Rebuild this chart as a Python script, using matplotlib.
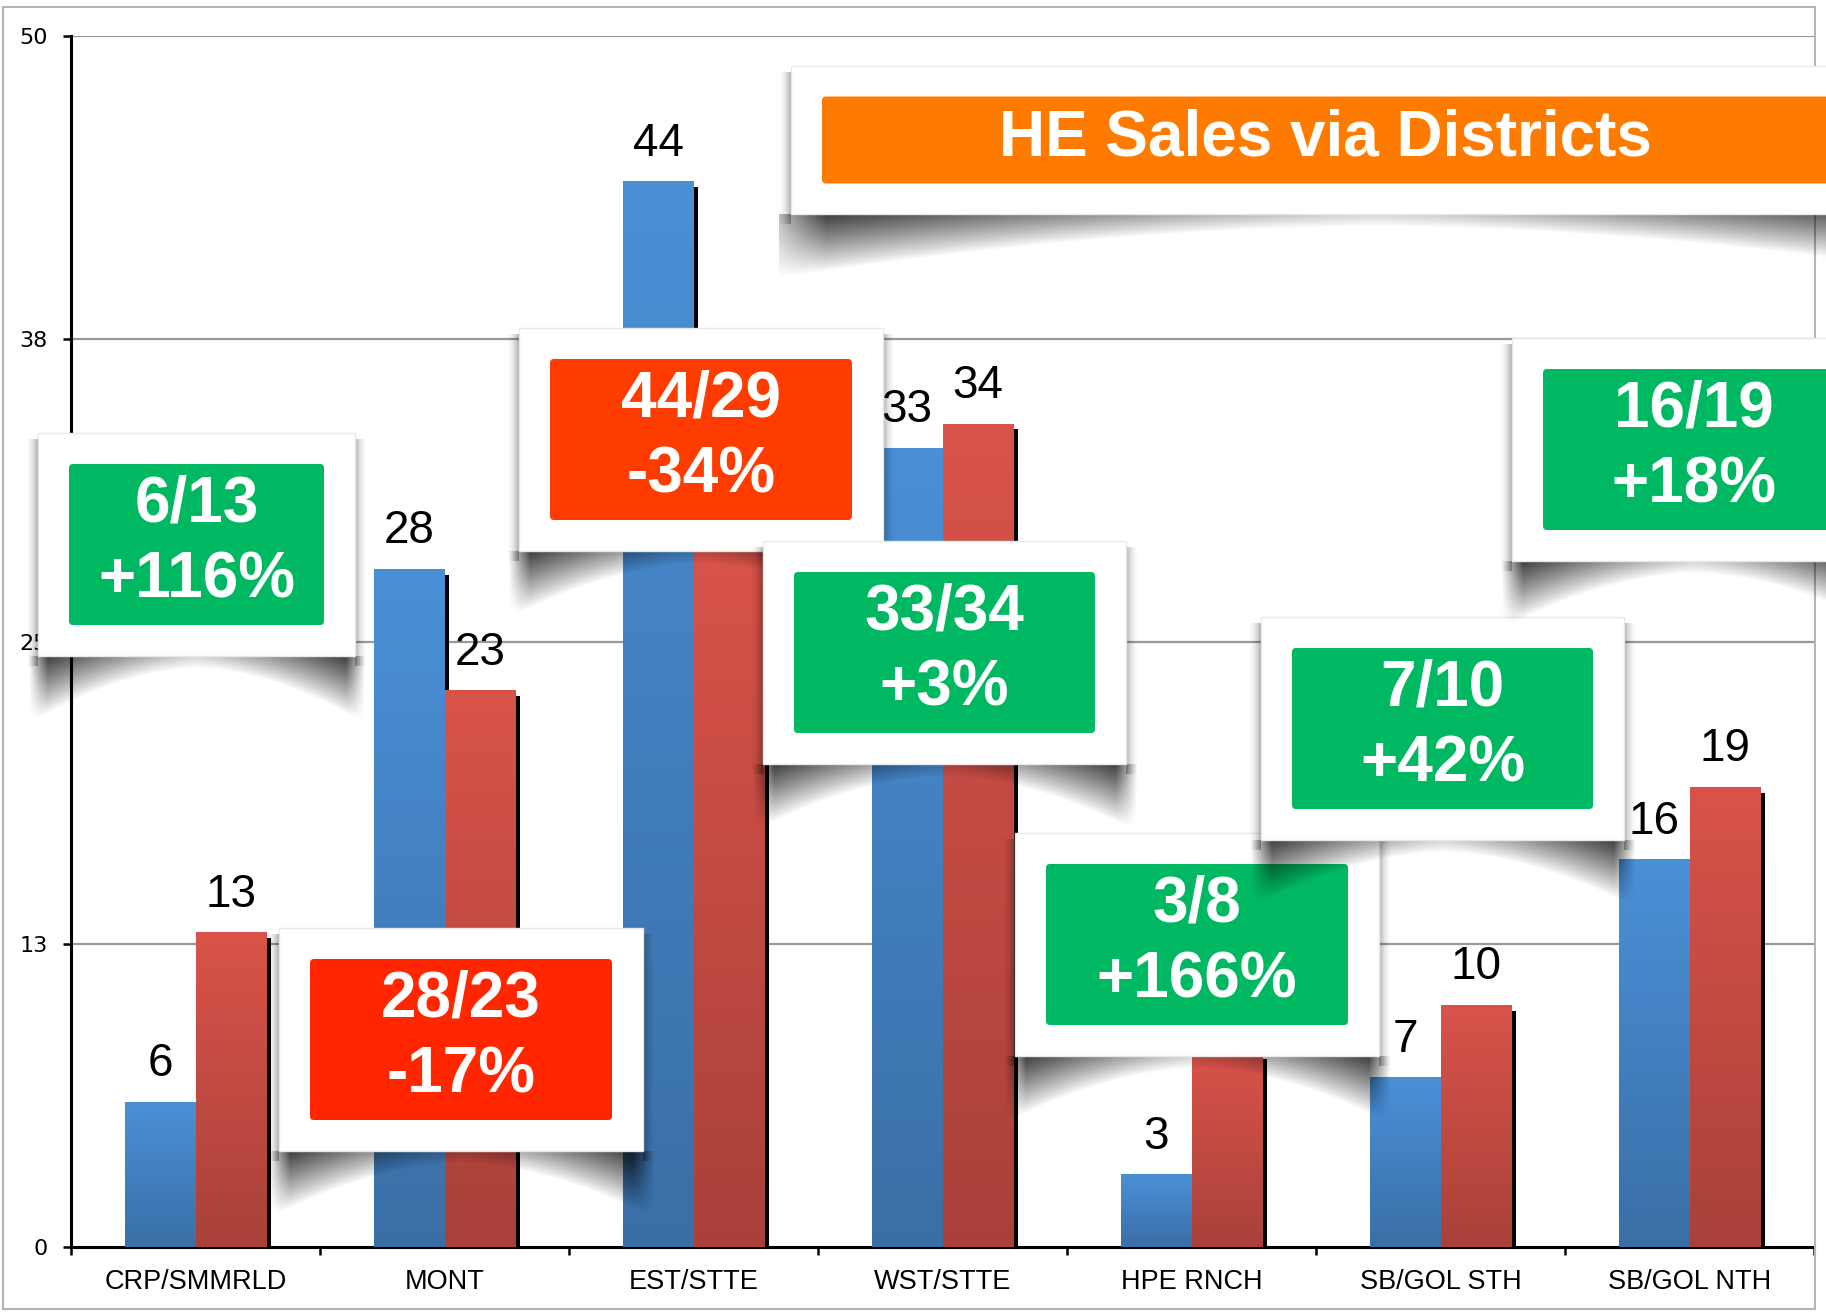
import numpy as np
import matplotlib.pyplot as plt
from matplotlib.patches import Rectangle, FancyBboxPatch
from matplotlib.colors import LinearSegmentedColormap

districts = ["CRP/SMMRLD", "MONT", "EST/STTE", "WST/STTE", "HPE RNCH", "SB/GOL STH", "SB/GOL NTH"]
before = [6, 28, 44, 33, 3, 7, 16]
after = [13, 23, 29, 34, 8, 10, 19]
y_ticks = [0, 12.5, 25, 37.5, 50]
y_tick_labels = ["0", "13", "25", "38", "50"]
title = "HE Sales via Districts"

# callout layout in figure pixels: left, top, width of the white card
callout_boxes = [(38, 433, 317), (279, 928, 364), (519, 328, 364), (763, 541, 363),
                 (1015, 833, 364), (1261, 617, 363), (1512, 338, 363)]
callout_colors = ["#00b862", "#ff2600", "#ff3c00", "#00b862", "#00b862", "#00b862", "#00b862"]

W, H = 1826, 1312
fig = plt.figure(figsize=(W / 100, H / 100), dpi=100)
ax = fig.add_axes([71 / W, 65 / H, (1814 - 71) / W, (1247 - 36) / H])

x = np.arange(len(districts)) + 0.5
bw = 0.285
blue_cmap = LinearSegmentedColormap.from_list("b", ["#3a6fa6", "#4a90d8"])
red_cmap = LinearSegmentedColormap.from_list("r", ["#a9413a", "#d9534a"])
grad = np.linspace(0, 1, 256).reshape(-1, 1)

# dark drop edge behind bars
ax.bar(x - bw / 2 + 0.02, np.array(before) - 0.24, bw, color="black", zorder=2)
ax.bar(x + bw / 2 + 0.02, np.array(after) - 0.24, bw, color="black", zorder=2)

for vals, off, cmap in [(before, -bw / 2, blue_cmap), (after, bw / 2, red_cmap)]:
    bars = ax.bar(x + off, vals, bw, color="none", zorder=3)
    for b in bars:
        x0, w, h = b.get_x(), b.get_width(), b.get_height()
        im = ax.imshow(grad, extent=[x0, x0 + w, 0, h], origin="lower", cmap=cmap,
                       aspect="auto", zorder=3)
        im.set_clip_path(b)
    for xi, v in zip(x + off, vals):
        ax.text(xi, v + 1.05, str(v), ha="center", va="baseline", fontsize=33,
                family=["Liberation Sans", "DejaVu Sans"], zorder=4)

ax.set_xlim(0, 7)
ax.set_ylim(0, 50)
ax.set_axisbelow(True)
for yv in y_ticks[1:]:
    ax.axhline(yv, color="#999999", lw=1.6, zorder=0)

ax.set_yticks(y_ticks)
ax.set_yticklabels(y_tick_labels, fontsize=16, family="DejaVu Sans")
ax.set_xticks(np.arange(8))
ax.set_xticklabels([])
ax.set_xticks(x, minor=True)
ax.set_xticklabels(districts, minor=True, fontsize=19.5,
                   family=["Liberation Sans Narrow", "Liberation Sans"])
ax.tick_params(axis="y", length=6, width=1.8, pad=11)
ax.tick_params(axis="x", which="major", length=6, width=1.8)
ax.tick_params(axis="x", which="minor", length=0, pad=16)
for s in ["top", "right"]:
    ax.spines[s].set_visible(False)
for s in ["left", "bottom"]:
    ax.spines[s].set_linewidth(2.2)

# overlay in pixel coordinates for the cards
ov = fig.add_axes([0, 0, 1, 1])
ov.set_xlim(0, W)
ov.set_ylim(H, 0)
ov.axis("off")

ov.add_patch(Rectangle((3, 7), 1812, 1302, fill=False, ec="#b4b4b4", lw=1.5, zorder=0.5))


def curl_shadow(x0, x1, yb, z, d_mid=12, d_edge=62, strength=0.8):
    pad = 12
    xs = np.arange(x0 - pad, x1 + pad)
    ts = np.arange(0, d_edge + 6)
    X, T = np.meshgrid(xs, ts)
    u = np.abs(X - (x0 + x1) / 2) / ((x1 - x0) / 2)
    uc = np.clip(u, 0, 1)
    D = d_mid + (d_edge - d_mid) * uc ** 1.8
    f = np.clip(1 - T / D, 0, 1)
    a = strength * f ** 0.9 * (0.2 + 0.8 * uc ** 1.2)
    a *= np.clip((1.06 - u) / 0.12, 0, 1)
    img = np.zeros(X.shape + (4,))
    img[..., 3] = a
    ov.imshow(img, extent=[x0 - pad, x1 + pad, yb + len(ts), yb], aspect="auto",
              zorder=z, interpolation="bilinear")


def side_shadow(x0, x1, y0, y1, z, width=14, strength=0.3):
    ramp = np.linspace(0, 1, width) ** 2
    for xa, r in [(x0 - width, ramp), (x1, ramp[::-1])]:
        img = np.zeros((2, width, 4))
        img[..., 3] = strength * r
        ov.imshow(img, extent=[xa, xa + width, y1 + 10, y0 + 6], aspect="auto",
                  zorder=z, interpolation="bilinear")


def card(left, top, width, height, color, inner_h, label, z, fs):
    curl_shadow(left, left + width, top + height, z)
    side_shadow(left, left + width, top, top + height, z)
    ov.add_patch(Rectangle((left, top), width, height, fc="white", ec="#e8e8e8",
                           lw=1, zorder=z + 0.1))
    m = 31
    iw = width - 2 * m
    it = top + (height - inner_h) / 2
    ov.add_patch(FancyBboxPatch((left + m, it), iw, inner_h,
                                boxstyle="round,pad=0,rounding_size=4",
                                fc=color, ec="none", zorder=z + 0.2))
    ov.text(left + m + iw / 2, it + inner_h / 2 - 2, label, ha="center", va="center",
            color="white", fontsize=fs, fontweight="bold",
            family=["Liberation Sans", "DejaVu Sans"], linespacing=1.32, zorder=z + 0.3)


# title card (runs off the right edge)
card(791, 66, 1170, 148, "#ff7b00", 87, "", 10, 46)
ov.text(1325, 138, title, ha="center", va="center", color="white", fontsize=46,
        fontweight="bold", family=["Liberation Sans", "DejaVu Sans"], zorder=10.5)

for i, (b, a) in enumerate(zip(before, after)):
    pct = int((a - b) / b * 100)
    label = f"{b}/{a}\n{pct:+d}%"
    left, top, width = callout_boxes[i]
    card(left, top, width, 223, callout_colors[i], 161, label, 11 + i, 46)

ov.set_xlim(0, W)
ov.set_ylim(H, 0)

fig.savefig("out.png", dpi=100, facecolor="white")
